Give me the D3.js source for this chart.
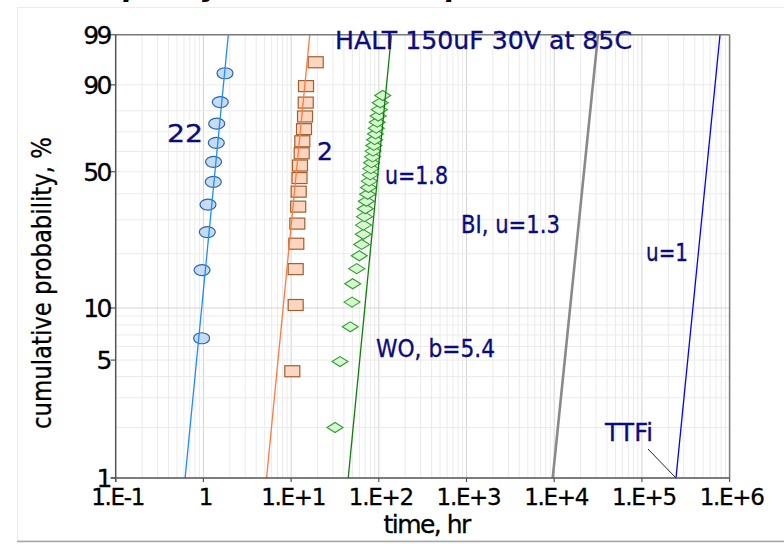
<!DOCTYPE html>
<html><head><meta charset="utf-8">
<script src="https://cdn.jsdelivr.net/npm/d3@7"></script>
<style>body{margin:0;background:#fff;} svg{display:block;}</style>
</head><body>
<svg id="c" width="784" height="544"></svg>
<script>
// ---------- data ----------
const xTickValues=[0.1,1,10,100,1000,10000,100000,1000000];
const xTickLabels=["1.E-1","1","1.E+1","1.E+2","1.E+3","1.E+4","1.E+5","1.E+6"];
const yTickValues=[1,5,10,50,90,99];
const yTickLabels=["1","5","10","50","90","99"];
const yGridValues=[1,2,3,4,5,6,7,8,9,10,20,30,40,50,60,70,80,90,99];

const blueTimes=[0.955,0.965,1.108,1.128,1.297,1.305,1.403,1.418,1.558,1.763];
const bluePct=[6.7,16.3,26.0,35.6,45.2,54.8,64.4,74.0,83.7,93.3];
const orangeTimes=[10.32,11.28,11.28,11.46,11.77,12.05,12.21,12.47,12.63,13.21,13.42,14.04,14.41,14.68,14.79,19.08];
const orangePct=[4.3,10.4,16.5,22.6,28.7,34.8,40.9,47.0,53.0,59.1,65.2,71.3,77.4,83.5,89.6,95.7];
const greenTimes=[31.7,36.1,47.3,49.5,50.4,56.0,59.9,63.8,66.6,66.8,68.7,70.2,72.0,74.7,76.3,77.9,79.8,81.0,82.6,84.8,86.1,87.7,89.8,91.7,93.7,95.9,98.4,101.3,104.0,110.8];
const greenPct=[2.0,4.9,7.8,10.8,13.7,16.6,19.5,22.4,25.3,28.2,31.1,34.0,36.9,39.8,42.7,45.6,48.5,51.5,54.4,57.3,60.2,63.1,66.0,68.9,71.8,74.7,77.6,80.5,83.4,86.3];

const fitNames=["22","2","u=1.8","BI, u=1.3","u=1"];
const fitEta=[1.45,12.3,105,23500,583000];
const fitBeta=[5.4,5.4,5.4,5.15,5.3];

// ---------- drawing ----------
const svg=d3.select("#c");
const L=115.7,R=729.6,T=34.7,B=478;
const weib=p=>Math.log(-Math.log(1-p/100));
const x=d3.scaleLog().domain([0.1,1e6]).range([L,R]);
const y=d3.scaleLinear().domain([weib(1),weib(99)]).range([B,T]);
const FONT="'DejaVu Sans', Verdana, sans-serif";
const NAVY="#0b0b80";

// outer chart frame
svg.append("rect").attr("x",17.5).attr("y",7.5).attr("width",800).attr("height",533)
  .attr("fill","#fff").attr("stroke","#ececec");
svg.append("line").attr("x1",17).attr("x2",784).attr("y1",541.5).attr("y2",541.5)
  .attr("stroke","#a8a8a8").attr("stroke-width",1.5);

// title (clipped at top of window; only descenders visible)
svg.append("text").attr("x",84).attr("y",-4.5).attr("font-family",FONT)
  .attr("font-size",28).attr("font-weight","bold").attr("font-style","italic")
  .attr("fill","#000").text("Capacity failure at temperature");

// grid
const grid=svg.append("g");
const vMinor=[];
xTickValues.slice(0,-1).forEach(d=>{for(let k=2;k<=9;k++) vMinor.push(d*k);});
grid.selectAll(".vmin").data(vMinor).join("line")
  .attr("x1",d=>x(d)).attr("x2",d=>x(d)).attr("y1",T).attr("y2",B)
  .attr("stroke","#ebebeb").attr("stroke-width",1);
grid.selectAll(".vmaj").data(xTickValues.slice(1,-1)).join("line")
  .attr("x1",d=>x(d)).attr("x2",d=>x(d)).attr("y1",T).attr("y2",B)
  .attr("stroke","#d4d4d4").attr("stroke-width",1);
grid.selectAll(".hg").data(yGridValues).join("line")
  .attr("x1",L).attr("x2",R).attr("y1",d=>y(weib(d))).attr("y2",d=>y(weib(d)))
  .attr("stroke",d=>d===10?"#d4d4d4":"#ebebeb").attr("stroke-width",1);

const plot=svg.append("g");
svg.append("clipPath").attr("id","pc").append("rect")
  .attr("x",L).attr("y",T).attr("width",R-L).attr("height",B-T);

// markers
const blueData=blueTimes.map((t,i)=>({t,p:bluePct[i]}));
plot.selectAll(".bc").data(blueData).join("ellipse")
  .attr("cx",d=>x(d.t)).attr("cy",d=>y(weib(d.p))).attr("rx",8).attr("ry",5.5)
  .attr("fill","#c4dcf6").attr("stroke","#2f64a6").attr("stroke-width",1.2);
const orangeData=orangeTimes.map((t,i)=>({t,p:orangePct[i]}));
plot.selectAll(".os").data(orangeData).join("rect")
  .attr("x",d=>x(d.t)-7.5).attr("y",d=>y(weib(d.p))-5.5).attr("width",15).attr("height",11)
  .attr("fill","#fdd6c2").attr("stroke","#a0602c").attr("stroke-width",1.2);
const greenData=greenTimes.map((t,i)=>({t,p:greenPct[i]}));
plot.selectAll(".gd").data(greenData).join("path")
  .attr("transform",d=>`translate(${x(d.t)},${y(weib(d.p))})`)
  .attr("d","M-8,0L0,-5L8,0L0,5Z")
  .attr("fill","#d6f7cf").attr("stroke","#2e9e2e").attr("stroke-width",1.1);

// fitted Weibull lines
const fitColors=["#1e8cff","#ff7a3c","#0a820a","#8a8a8a","#0000ff"];
const fitWidths=[1.3,1.3,1.3,2.6,1.3];
const tAt=(eta,beta,p)=>eta*Math.pow(-Math.log(1-p/100),1/beta);
fitEta.forEach((eta,i)=>{
  const b=fitBeta[i];
  plot.append("line").attr("clip-path","url(#pc)")
    .attr("x1",x(tAt(eta,b,1))).attr("y1",y(weib(1)))
    .attr("x2",x(tAt(eta,b,99))).attr("y2",y(weib(99)))
    .attr("stroke",fitColors[i]).attr("stroke-width",fitWidths[i]);
});

// axes frame
svg.append("line").attr("x1",L).attr("x2",R).attr("y1",T).attr("y2",T).attr("stroke","#7a7a7a").attr("stroke-width",1.5);
svg.append("line").attr("x1",R).attr("x2",R).attr("y1",T).attr("y2",B).attr("stroke","#7a7a7a").attr("stroke-width",1.5);
svg.append("line").attr("x1",L).attr("x2",L).attr("y1",T).attr("y2",B+4).attr("stroke","#555").attr("stroke-width",1.5);
svg.append("line").attr("x1",L-5).attr("x2",R).attr("y1",B).attr("y2",B).attr("stroke","#555").attr("stroke-width",1.5);

// y ticks + labels
svg.selectAll(".yt").data(yTickValues).join("line")
  .attr("x1",L-5).attr("x2",L).attr("y1",d=>y(weib(d))).attr("y2",d=>y(weib(d)))
  .attr("stroke","#555").attr("stroke-width",1.2);
svg.selectAll(".yl").data(yTickValues).join("text")
  .attr("x",110).attr("y",d=>y(weib(d))+9).attr("text-anchor","end")
  .attr("font-family",FONT).attr("font-size",25).attr("letter-spacing",-2.5)
  .attr("fill","#000").attr("stroke","#000").attr("stroke-width",0.3)
  .text((d,i)=>yTickLabels[i]);

// x ticks + labels
svg.selectAll(".xt").data(xTickValues).join("line")
  .attr("x1",d=>x(d)).attr("x2",d=>x(d)).attr("y1",B).attr("y2",B+4)
  .attr("stroke","#555").attr("stroke-width",1.2);
svg.selectAll(".xl").data(xTickValues).join("text")
  .attr("x",d=>x(d)+2).attr("y",505).attr("text-anchor","middle")
  .attr("font-family",FONT).attr("font-size",23).attr("letter-spacing",-1.3)
  .attr("fill","#000").attr("stroke","#000").attr("stroke-width",0.3)
  .text((d,i)=>xTickLabels[i]);

// axis titles
svg.append("text").attr("x",(L+R)/2+4).attr("y",533).attr("text-anchor","middle")
  .attr("font-family",FONT).attr("font-size",25).attr("letter-spacing",-1.5)
  .attr("fill","#000").attr("stroke","#000").attr("stroke-width",0.3).text("time, hr");
svg.append("text").attr("transform","translate(51,283) rotate(-90)").attr("text-anchor","middle")
  .attr("font-family",FONT).attr("font-size",26)
  .attr("textLength",292).attr("lengthAdjust","spacingAndGlyphs")
  .attr("fill","#000").attr("stroke","#000").attr("stroke-width",0.3)
  .text("cumulative probability, %");

// annotations
function note(txt,x0,y0,len){
  const t=svg.append("text").attr("x",x0).attr("y",y0).attr("font-family",FONT)
    .attr("font-size",25).attr("fill",NAVY).attr("stroke",NAVY).attr("stroke-width",0.35)
    .text(txt);
  if(len) t.attr("textLength",len).attr("lengthAdjust","spacingAndGlyphs");
  return t;
}
note("HALT 150uF 30V at 85C",335,49,297);
note(fitNames[0],167,142,36);
note(fitNames[1],317,160);
note(fitNames[2],385,184,63);
note(fitNames[3],461,233,99);
note(fitNames[4],646,261,42);
note("WO, b=5.4",376,357,119);
note("TTFi",605,441,48);
// leader from TTFi to the TTFi line foot
svg.append("line").attr("x1",648).attr("y1",449)
  .attr("x2",x(tAt(fitEta[4],fitBeta[4],1))).attr("y2",y(weib(1)))
  .attr("stroke","#222").attr("stroke-width",1);
</script>
</body></html>
